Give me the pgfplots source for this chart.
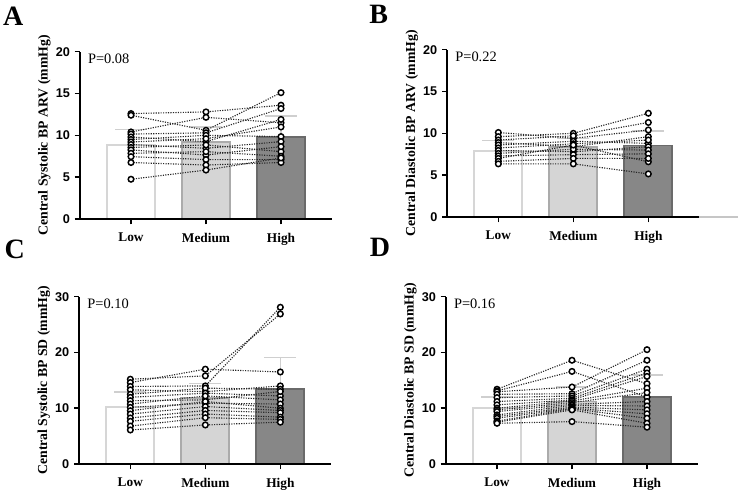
\documentclass[border=0pt]{standalone}
\usepackage{fontspec}
\setmainfont{Liberation Serif}
\setsansfont{Liberation Sans}
\usepackage{pgfplots}
\pgfplotsset{compat=1.18}
\definecolor{lowedge}{HTML}{D6D6D6}
\definecolor{medfill}{HTML}{D5D5D5}
\definecolor{mededge}{HTML}{ABABAB}
\definecolor{hifill}{HTML}{878787}
\definecolor{hiedge}{HTML}{6A6A6A}
\definecolor{capcol}{HTML}{CFCFCF}

\pgfplotsset{
  panel/.style={
    scale only axis, width=189pt, height=125.5pt, anchor=south west,
    xmin=-0.68, xmax=2.68, ymin=0,
    axis x line*=bottom, axis y line*=left,
    axis line style={line width=1.4pt},
    axis on top, clip=false,
    xtick={0,1,2}, xticklabels={Low,Medium,High},
    tick align=outside, major tick length=4pt,
    major tick style={line width=1.2pt, black},
    /pgf/number format/assume math mode=true,
    yticklabel style={font=\sffamily\bfseries\fontsize{9.5}{11}\selectfont},
    xticklabel style={font=\bfseries\fontsize{10}{12}\selectfont, yshift=-3pt},
    ylabel style={font=\bfseries\fontsize{10.3}{12}\selectfont, yshift=-3pt},
  },
  barbase/.style={ybar, bar width=0.64, bar shift=0pt, line width=1.4pt,
    error bars/.cd, y dir=plus, y explicit,
    error bar style={color=capcol, line width=1.2pt},
    error mark options={color=capcol, mark size=12pt, line width=1.2pt, rotate=90}},
  subj/.style={black!85, densely dotted, line width=0.85pt, mark=*,
    mark size=2.1pt, mark options={solid, fill=white, draw=black, line width=1.1pt}},
}
\newcommand{\bars}[6]{%
  \addplot[fill=white, draw=lowedge, barbase] coordinates {(0,#1) +- (0,#2)};
  \addplot[fill=medfill, draw=mededge, barbase] coordinates {(1,#3) +- (0,#4)};
  \addplot[fill=hifill, draw=hiedge, barbase] coordinates {(2,#5) +- (0,#6)};}
\newcommand{\subj}[3]{\addplot[subj] coordinates {(0,#1) (1,#2) (2,#3)};}
\newcommand{\pval}[1]{\node[anchor=west, font=\fontsize{10.8}{12}\selectfont] at ([xshift=2.5pt,yshift=-5.5pt]rel axis cs:0,1) {#1};}

\begin{document}
\begin{tikzpicture}
\useasboundingbox (0,0) rectangle (553.5pt,369pt);

% A
\begin{axis}[panel, at={(60pt,204.75pt)}, ymax=20, ytick={0,5,10,15,20},
  ylabel={Central Systolic BP ARV (mmHg)}]
\bars{8.84}{1.86}{9.25}{1.75}{9.76}{2.54}
\subj{12.6}{12.8}{13.6}
\subj{12.4}{10.6}{15.1}
\subj{10.4}{12.15}{11.5}
\subj{10.15}{10.3}{13.2}
\subj{9.8}{9.25}{11.9}
\subj{9.5}{10.0}{9.85}
\subj{9.2}{9.6}{11.0}
\subj{8.9}{8.45}{9.25}
\subj{8.55}{8.85}{8.05}
\subj{8.25}{7.65}{8.65}
\subj{7.85}{8.05}{7.5}
\subj{7.45}{7.1}{7.1}
\subj{6.75}{6.45}{6.75}
\subj{4.75}{5.85}{7.3}
\pval{P=0.08}
\end{axis}

% B
\begin{axis}[panel, at={(335.5pt,206.25pt)}, ymax=20, ytick={0,5,10,15,20},
  ylabel={Central Diastolic BP ARV (mmHg)}]
\bars{7.9}{1.24}{8.4}{1.0}{8.54}{1.76}
\subj{10.1}{9.4}{10.4}
\subj{9.6}{10.0}{12.4}
\subj{9.2}{9.7}{11.3}
\subj{8.9}{8.4}{9.6}
\subj{8.6}{9.05}{8.8}
\subj{8.25}{8.75}{9.2}
\subj{7.95}{7.8}{8.4}
\subj{7.6}{8.1}{8.0}
\subj{7.3}{7.45}{7.55}
\subj{7.0}{8.6}{6.6}
\subj{6.65}{7.0}{7.0}
\subj{6.35}{6.35}{5.15}
\pval{P=0.22}
\draw[gray!45, line width=1.2pt] (axis cs:2.68,0) -- (axis cs:3.19,0);
\end{axis}

% C
\begin{axis}[panel, at={(59.5pt,21pt)}, ymax=30, ytick={0,10,20,30},
  ylabel={Central Systolic BP SD (mmHg)}]
\bars{10.27}{2.69}{11.77}{2.68}{13.44}{5.66}
\subj{15.2}{15.8}{26.9}
\subj{14.6}{17.0}{16.5}
\subj{13.9}{14.0}{28.1}
\subj{13.3}{12.97}{14.0}
\subj{12.5}{13.6}{13.4}
\subj{11.95}{12.7}{12.2}
\subj{11.35}{11.5}{13.0}
\subj{10.75}{12.2}{11.5}
\subj{10.15}{10.9}{10.75}
\subj{9.55}{11.2}{10.0}
\subj{8.95}{10.3}{9.6}
\subj{8.25}{9.6}{9.2}
\subj{7.65}{8.96}{8.4}
\subj{6.8}{8.3}{8.0}
\subj{6.1}{7.0}{7.5}
\pval{P=0.10}
\end{axis}

% D
\begin{axis}[panel, at={(334.5pt,21pt)}, ymax=30, ytick={0,10,20,30},
  ylabel={Central Diastolic BP SD (mmHg)}]
\bars{10.1}{1.9}{11.2}{2.6}{12.0}{4.0}
\subj{13.4}{18.6}{14.4}
\subj{13.1}{16.6}{12.0}
\subj{12.95}{13.8}{20.5}
\subj{12.5}{12.6}{18.6}
\subj{11.9}{12.2}{17.0}
\subj{11.2}{11.8}{16.3}
\subj{10.6}{11.5}{15.7}
\subj{10.0}{11.3}{13.6}
\subj{9.7}{11.0}{12.8}
\subj{9.4}{10.7}{11.2}
\subj{8.8}{10.5}{10.4}
\subj{8.5}{10.2}{9.7}
\subj{8.2}{10.0}{9.0}
\subj{7.7}{9.9}{8.2}
\subj{7.5}{9.7}{7.3}
\subj{7.3}{7.6}{6.6}
\pval{P=0.16}
\end{axis}

\begin{scope}[font=\bfseries\fontsize{21}{24}\selectfont]
\node at (10pt,356.5pt) {A};
\node at (284pt,358.5pt) {B};
\node at (11pt,182pt) {C};
\node at (285pt,183.5pt) {D};
\end{scope}
\end{tikzpicture}
\end{document}
